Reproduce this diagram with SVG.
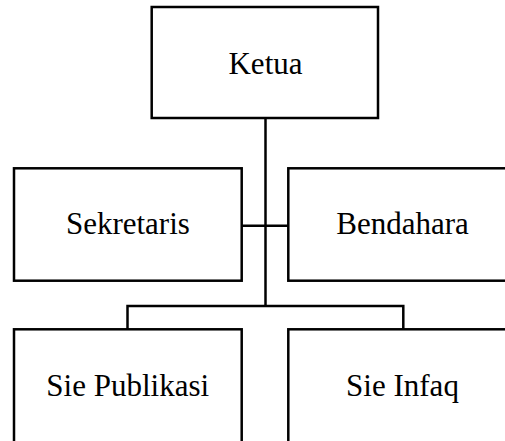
<svg xmlns="http://www.w3.org/2000/svg" width="505" height="441" viewBox="0 0 505 441">
<style>
.box{fill:#fff;stroke:#000;stroke-width:2.5}
.conn{fill:none;stroke:#000;stroke-width:2.5}
text{font-family:"Liberation Serif","Times New Roman",serif;font-size:31px;fill:#000;text-anchor:middle}
</style>
<rect width="505" height="441" fill="#fff"/>
<g id="connectors">
<line class="conn" x1="265.5" y1="118" x2="265.5" y2="306"/>
<line class="conn" x1="241.7" y1="225.7" x2="288.3" y2="225.7"/>
<polyline class="conn" points="127.5,329.3 127.5,306 403.3,306 403.3,329.3"/>
</g>
<g id="ketua">
<rect class="box" x="151.7" y="7" width="226.3" height="111"/>
<text x="265.5" y="73.5">Ketua</text>
</g>
<g id="sekretaris">
<rect class="box" x="14" y="168.3" width="227.7" height="112.4"/>
<text x="127.9" y="234">Sekretaris</text>
</g>
<g id="bendahara">
<rect class="box" x="288.3" y="168.3" width="260" height="112.4"/>
<text x="402.5" y="234">Bendahara</text>
</g>
<g id="sie-publikasi">
<rect class="box" x="14" y="329.3" width="227.7" height="140"/>
<text x="127.7" y="396">Sie Publikasi</text>
</g>
<g id="sie-infaq">
<rect class="box" x="288.3" y="329.3" width="260" height="140"/>
<text x="402.5" y="396">Sie Infaq</text>
</g>
</svg>
